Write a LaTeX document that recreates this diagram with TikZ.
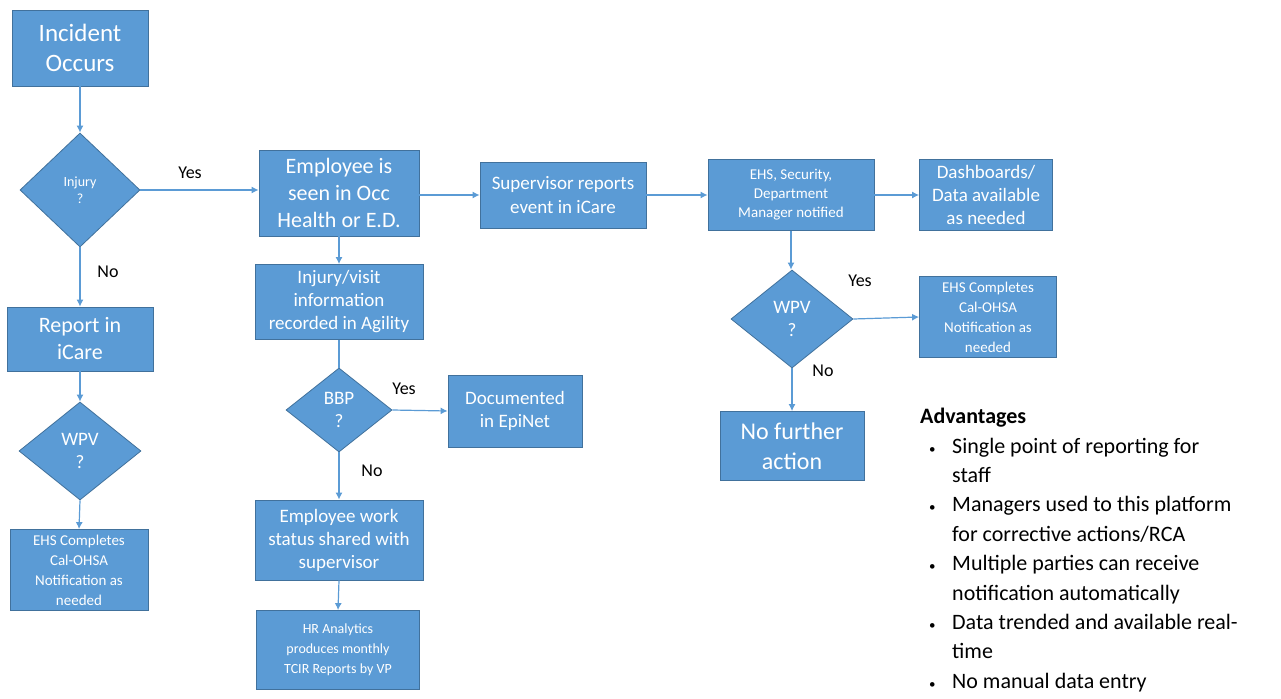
\documentclass[tikz,border=0pt]{standalone}
\usepackage{fontspec}
\setmainfont{Carlito}
\usetikzlibrary{shapes.geometric,arrows.meta}
\definecolor{boxblue}{HTML}{5B9BD5}
\definecolor{boxline}{HTML}{41719C}
\newcommand{\fs}[2]{\fontsize{#1}{#2}\selectfont}
\newcommand{\bul}{\makebox[32pt][l]{\hspace{9pt}{\fs{13}{13}\textbullet}}}
\newcommand{\ind}{\hspace*{32pt}}

\begin{document}
\begin{tikzpicture}[x=1pt, y=-1pt,
	box/.style={draw=boxline, fill=boxblue, text=white, align=center, inner sep=0pt, line width=0.8pt},
	decision/.style={diamond, draw=boxline, fill=boxblue, text=white, align=center, inner sep=0pt, line width=0.8pt},
	flow/.style={draw=boxblue, line width=1.2pt, -{Latex[length=7pt,width=7pt]}},
	lbl/.style={font=\fs{18}{22}}]
	\useasboundingbox (0,0) rectangle (1281,698);

	\node[box, minimum width=136, minimum height=76, font=\fs{25}{30}] (inc) at (80,48) {Incident\\Occurs};
	\node[decision, minimum width=120, minimum height=114, font=\fs{14}{17}] (inj) at (80,190) {Injury\\?};
	\node[box, minimum width=146, minimum height=64, font=\fs{22}{27}] (rep) at (80,339) {Report in\\iCare};
	\node[decision, minimum width=122, minimum height=98, font=\fs{19}{23}] (wpva) at (80,451) {WPV\\?};
	\node[box, minimum width=138, minimum height=81, font=\fs{15}{20}] (cala) at (79,570) {EHS Completes\\Cal-OHSA\\Notification as\\needed};

	\node[box, minimum width=160, minimum height=86, font=\fs{22}{27}] (emp) at (339,193) {Employee is\\seen in Occ\\Health or E.D.};
	\node[box, minimum width=168, minimum height=75, font=\fs{19}{23}] (vis) at (339,302) {Injury/visit\\information\\recorded in Agility};
	\node[decision, minimum width=106, minimum height=84, font=\fs{19}{23}] (bbp) at (339,410) {BBP\\?};
	\node[box, minimum width=134, minimum height=72, font=\fs{19}{23}] (epi) at (515,411) {Documented\\in EpiNet};
	\node[box, minimum width=168, minimum height=80, font=\fs{19}{23}] (wrk) at (339,540) {Employee work\\status shared with\\supervisor};
	\node[box, minimum width=163, minimum height=79, font=\fs{14}{20}] (hr) at (338,650) {HR Analytics\\produces monthly\\TCIR Reports by VP};

	\node[box, minimum width=166, minimum height=66, font=\fs{19}{24}] (sup) at (563,195) {Supervisor reports\\event in iCare};
	\node[box, minimum width=166, minimum height=71, font=\fs{15}{19}] (mgr) at (791,195) {EHS, Security,\\Department\\Manager notified};
	\node[box, minimum width=133, minimum height=71, font=\fs{19}{23}] (dash) at (986,195) {Dashboards/\\Data available\\as needed};
	\node[decision, minimum width=122, minimum height=98, font=\fs{19}{23}] (wpvb) at (792,319) {WPV\\?};
	\node[box, minimum width=137, minimum height=81, font=\fs{15}{20}] (calb) at (988,317) {EHS Completes\\Cal-OHSA\\Notification as\\needed};
	\node[box, minimum width=144, minimum height=69, font=\fs{24}{30}] (none) at (792,446) {No further\\action};

	\node[lbl] (yesa) at (190,173) {Yes};
	\node[lbl] (noa) at (108,272) {No};
	\node[lbl] (yesb) at (404,389) {Yes};
	\node[lbl] (nob) at (372,471) {No};
	\node[lbl] (yesc) at (860,281) {Yes};
	\node[lbl] (noc) at (823,371) {No};

	\draw[flow] (inc.south) -- (inj.north);
	\draw[flow] (inj.east) -- (inj.east -| emp.west);
	\draw[flow] (inj.south) -- (rep.north);
	\draw[flow] (rep.south) -- (wpva.north);
	\draw[flow] (wpva.south) -- (cala.north);
	\draw[flow] (emp.east |- sup.west) -- (sup.west);
	\draw[flow] (emp.south) -- (vis.north);
	\draw[draw=boxblue, line width=1.2pt] (vis.south) -- (bbp.north);
	\draw[flow] (bbp.east) -- (epi.west);
	\draw[flow] (bbp.south) -- (wrk.north);
	\draw[flow] (wrk.south) -- (hr.north);
	\draw[flow] (sup.east) -- (mgr.west);
	\draw[flow] (mgr.east) -- (dash.west);
	\draw[flow] (mgr.south) -- (mgr.south |- wpvb.north);
	\draw[flow] (wpvb.east) -- (calb.west);
	\draw[flow] (wpvb.south) -- (none.north);

	\node[anchor=north west, align=left, inner sep=0pt, font=\fs{22}{29.4}] (adv) at (920,408)
		{\textbf{Advantages}\\
		\bul Single point of reporting for\\
		\ind staff\\
		\bul Managers used to this platform\\
		\ind for corrective actions/RCA\\
		\bul Multiple parties can receive\\
		\ind notification automatically\\
		\bul Data trended and available real-\\
		\ind time\\
		\bul No manual data entry};
\end{tikzpicture}
\end{document}
